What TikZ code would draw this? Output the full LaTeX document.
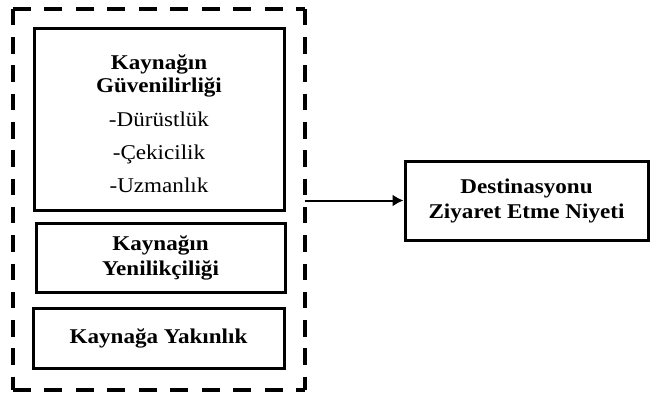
\documentclass[tikz,border=0pt]{standalone}
\usepackage{fontspec}
\setmainfont{Liberation Serif}[FakeStretch=1.1]
\usetikzlibrary{arrows.meta}
\begin{document}
\begin{tikzpicture}[x=1pt,y=-1pt,
  frame/.style={draw=black,line width=3pt,rectangle,inner sep=0pt},
  hdash/.style={draw=black,line width=4pt,dash pattern=on 18pt off 13.5pt},
  vdash/.style={draw=black,line width=4pt,dash pattern=on 16.5pt off 11.8pt},
  txt/.style={align=center,inner sep=0pt,font=\fontsize{21}{25}\selectfont},
  conn/.style={line width=2pt,-{Latex[length=11pt,width=12pt]}}]
\useasboundingbox (0,0) rectangle (651,392);
\node[rectangle,inner sep=0pt,minimum width=292pt,minimum height=381pt] (grp) at (159,199.5) {};
\draw[hdash] (grp.north west) -- (grp.north east);
\draw[hdash] (grp.south west) -- (grp.south east);
\draw[vdash] (grp.north west) -- (grp.south west);
\draw[vdash] (grp.north east) -- (grp.south east);
\node[frame,minimum width=250pt,minimum height=182pt] (b1) at (159,119) {};
\node[txt,font=\fontsize{21}{23}\selectfont] (t1) at (159,124) {\textbf{Kaynağın}\\\textbf{Güvenilirliği}\\[11pt]-Dürüstlük\\[10pt]-Çekicilik\\[10pt]-Uzmanlık};
\node[frame,minimum width=249pt,minimum height=69pt,txt] (b2) at (160.5,257.5) {\textbf{Kaynağın}\\\textbf{Yenilikçiliği}};
\node[frame,minimum width=251pt,minimum height=60pt,txt] (b3) at (158.5,338) {\textbf{Kaynağa Yakınlık}};
\node[frame,minimum width=243pt,minimum height=79pt,txt] (tgt) at (526.5,200.5) {\textbf{Destinasyonu}\\\textbf{Ziyaret Etme Niyeti}};
\draw[conn] (grp.east |- tgt.west) -- (tgt.west);
\end{tikzpicture}
\end{document}
